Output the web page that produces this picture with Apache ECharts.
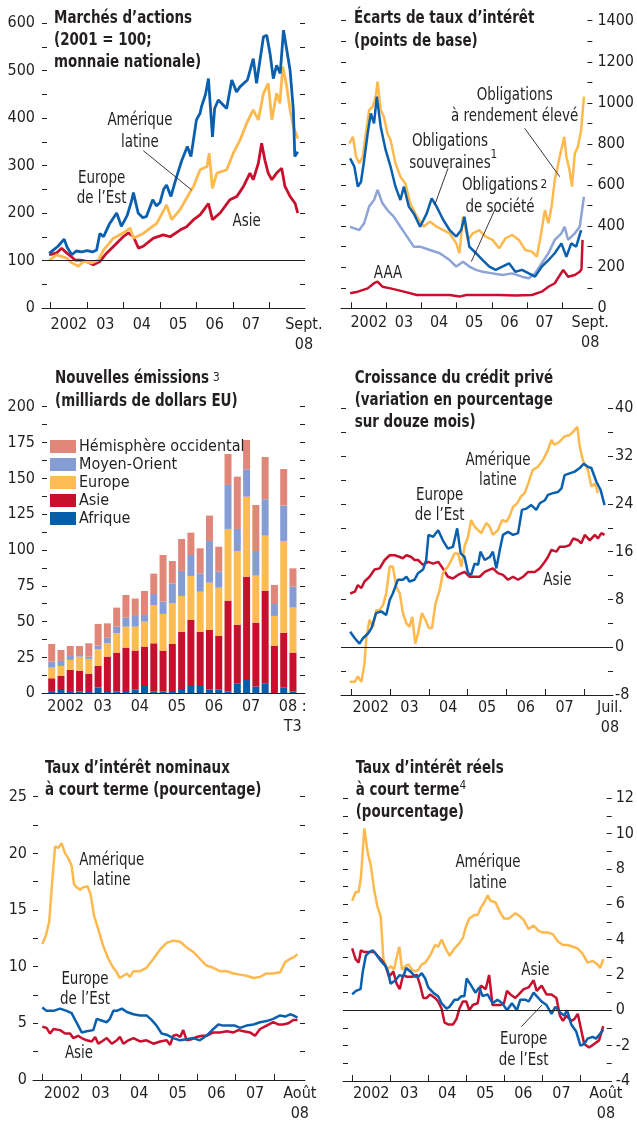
<!DOCTYPE html>
<html>
<head>
<meta charset="utf-8">
<script src="https://cdn.jsdelivr.net/npm/echarts@6/dist/echarts.min.js"></script>
<style>
  html, body { margin: 0; padding: 0; background: #fff; }
  #chart { width: 637px; height: 1124px; }
</style>
</head>
<body>
<div id="chart"></div>
<script>
const FONT = "'Liberation Sans Narrow', 'Arial Narrow', 'DejaVu Sans Condensed', sans-serif";
const INK = '#231f20';
const BLUE = '#0a5fae';
const ORANGE = '#fdb94e';
const RED = '#c8102e';
const LIGHT = '#8ea4d6';
const SALMON = '#e0877a';
const SQUEEZE = 0.83; // the source uses a condensed face

// shared x axis ticks / labels (years)
const yearTicks = [2002, 2003, 2004, 2005, 2006, 2007, 2008];
const yearLabels = ['2002', '03', '04', '05', '06', '07'];
const yearLabelPos = [2002.5, 2003.5, 2004.5, 2005.5, 2006.5, 2007.5];

// 1. Marchés d'actions (2001 = 100)
const eqEuropeEst = [[2001.96,115],[2002.07,122],[2002.2,130],[2002.37,145],[2002.45,128],[2002.58,112],[2002.7,120],[2002.85,118],[2003.0,121],[2003.15,118],[2003.26,122],[2003.35,157],[2003.45,150],[2003.54,165],[2003.62,178],[2003.81,200],[2003.94,172],[2004.1,195],[2004.23,228],[2004.27,243],[2004.4,200],[2004.53,190],[2004.63,193],[2004.8,228],[2004.9,215],[2005.0,222],[2005.1,250],[2005.18,259],[2005.3,235],[2005.45,275],[2005.6,311],[2005.75,340],[2005.85,319],[2006.0,396],[2006.1,410],[2006.14,424],[2006.25,450],[2006.33,483],[2006.44,360],[2006.5,420],[2006.6,438],[2006.83,420],[2006.97,480],[2007.1,455],[2007.2,466],[2007.4,480],[2007.56,525],[2007.65,473],[2007.84,571],[2007.93,574],[2008.02,536],[2008.11,483],[2008.2,511],[2008.3,494],[2008.39,585],[2008.48,543],[2008.57,501],[2008.66,417],[2008.7,319],[2008.78,329]];
const eqAmLatine = [[2001.96,100],[2002.16,112],[2002.44,105],[2002.58,95],[2002.76,88],[2002.9,98],[2003.13,95],[2003.31,101],[2003.45,122],[2003.72,147],[2003.99,158],[2004.18,168],[2004.27,147],[2004.54,157],[2004.91,178],[2005.18,217],[2005.32,186],[2005.55,207],[2005.78,238],[2005.92,256],[2006.1,291],[2006.29,298],[2006.35,326],[2006.44,252],[2006.56,284],[2006.83,291],[2007.01,326],[2007.2,354],[2007.38,389],[2007.56,417],[2007.7,396],[2007.84,452],[2007.97,473],[2008.07,396],[2008.2,452],[2008.29,431],[2008.37,508],[2008.48,466],[2008.57,417],[2008.66,382],[2008.78,357]];
const eqAsie = [[2001.96,112],[2002.16,116],[2002.3,126],[2002.44,116],[2002.67,101],[2002.81,101],[2002.99,98],[2003.17,91],[2003.35,98],[2003.54,116],[2003.77,133],[2003.99,150],[2004.13,158],[2004.27,150],[2004.41,126],[2004.54,130],[2004.82,147],[2005.09,154],[2005.28,150],[2005.55,164],[2005.73,171],[2005.92,186],[2006.1,196],[2006.33,220],[2006.44,186],[2006.65,200],[2006.92,228],[2007.11,235],[2007.29,256],[2007.47,284],[2007.56,270],[2007.7,305],[2007.79,347],[2007.88,311],[2007.97,284],[2008.07,270],[2008.2,284],[2008.34,294],[2008.43,256],[2008.57,235],[2008.71,220],[2008.78,200]];

// 2. Écarts de taux d'intérêt (points de base)
const spHighYield = [[2001.95,803],[2002.05,835],[2002.14,738],[2002.23,706],[2002.33,738],[2002.42,852],[2002.51,965],[2002.61,981],[2002.7,1030],[2002.75,1103],[2002.84,965],[2002.93,933],[2003.03,852],[2003.12,819],[2003.26,706],[2003.4,641],[2003.54,608],[2003.68,511],[2003.87,446],[2004.06,397],[2004.24,422],[2004.43,397],[2004.62,381],[2004.8,365],[2004.99,316],[2005.08,268],[2005.18,446],[2005.32,333],[2005.46,365],[2005.64,381],[2005.83,349],[2006.02,333],[2006.21,292],[2006.39,341],[2006.58,357],[2006.77,333],[2006.95,284],[2007.14,276],[2007.28,251],[2007.37,333],[2007.51,478],[2007.61,414],[2007.7,495],[2007.79,624],[2007.93,738],[2008.06,835],[2008.12,738],[2008.21,673],[2008.28,592],[2008.36,754],[2008.45,787],[2008.54,868],[2008.62,1030]];
const spSovereign = [[2001.97,730],[2002.09,690],[2002.19,592],[2002.28,616],[2002.37,722],[2002.47,852],[2002.56,949],[2002.65,900],[2002.73,1030],[2002.84,884],[2002.98,771],[2003.12,690],[2003.26,592],[2003.4,527],[2003.5,592],[2003.64,495],[2003.78,462],[2003.96,397],[2004.15,462],[2004.29,535],[2004.43,495],[2004.62,430],[2004.8,381],[2004.99,349],[2005.13,381],[2005.22,446],[2005.36,300],[2005.55,268],[2005.74,235],[2005.93,203],[2006.11,187],[2006.3,203],[2006.49,219],[2006.67,178],[2006.86,187],[2007.05,170],[2007.23,154],[2007.42,203],[2007.61,235],[2007.79,268],[2007.98,316],[2008.12,251],[2008.26,316],[2008.4,300],[2008.54,381]];
const spCorporate = [[2001.97,397],[2002.09,389],[2002.23,381],[2002.37,414],[2002.51,495],[2002.65,527],[2002.75,576],[2002.89,511],[2003.03,478],[2003.21,446],[2003.4,397],[2003.59,349],[2003.78,300],[2003.96,300],[2004.24,284],[2004.52,268],[2004.8,235],[2004.99,203],[2005.18,227],[2005.36,203],[2005.55,187],[2005.74,178],[2006.02,170],[2006.3,162],[2006.58,170],[2006.86,154],[2007.05,146],[2007.23,170],[2007.42,219],[2007.61,268],[2007.79,333],[2007.98,365],[2008.07,397],[2008.17,333],[2008.36,365],[2008.5,397],[2008.62,543]];
const spAAA = [[2001.97,73],[2002.19,81],[2002.47,97],[2002.65,122],[2002.75,130],[2002.89,105],[2003.12,97],[2003.5,81],[2003.87,65],[2004.34,65],[2004.8,65],[2005.08,57],[2005.27,65],[2005.74,65],[2006.21,65],[2006.67,62],[2007.14,65],[2007.42,81],[2007.61,105],[2007.79,122],[2008.03,187],[2008.17,154],[2008.36,162],[2008.5,178],[2008.55,190],[2008.58,333]];

// 3. Nouvelles émissions (milliards de dollars EU), trimestriel 2002 T1 - 2008 T3
const issueQuarters = ['2002T1','2002T2','2002T3','2002T4','2003T1','2003T2','2003T3','2003T4','2004T1','2004T2','2004T3','2004T4','2005T1','2005T2','2005T3','2005T4','2006T1','2006T2','2006T3','2006T4','2007T1','2007T2','2007T3','2007T4','2008T1','2008T2','2008T3'];
const issAfrique = [1.0,2.3,1.6,1.2,1.6,4.0,1.6,1.2,1.6,2.8,5.1,1.2,1.2,1.6,3.0,5.1,5.1,2.8,2.8,1.2,7.0,9.3,4.7,7.0,0,4.2,1.2];
const issAsie = [9.5,9.8,14.7,14.4,12.1,15.1,24.0,27.2,30.3,27.0,27.5,33.7,28.6,32.8,40.0,46.1,37.9,41.4,37.2,63.5,40.7,72.1,44.6,64.6,33.3,38.1,27.2];
const issEurope = [7.4,7.0,7.0,10.0,10.3,11.6,9.3,13.5,14.6,16.7,17.4,26.7,25.6,28.4,24.9,30.7,27.9,33.0,33.7,50.0,51.6,55.8,32.8,38.4,20.7,64.0,31.4];
const issMoyenOrient = [4.2,3.5,2.7,1.1,1.6,2.6,3.9,4.6,6.3,7.5,4.7,7.7,8.6,13.9,17.5,14.6,12.8,29.1,11.2,30.7,15.4,19.1,17.2,25.4,8.3,24.7,14.6];
const issHemOcc = [12.3,7.6,7.0,6.3,9.3,15.1,10.0,13.3,15.8,12.1,16.7,14.2,32.5,15.6,22.3,15.6,17.5,17.7,17.4,21.6,36.5,20.5,32.1,29.5,13.3,25.5,12.8];

// 4. Croissance du crédit privé (%, sur douze mois)
const crAmLatine = [[2001.96,-5.8],[2002.09,-5.8],[2002.17,-4.9],[2002.26,-5.8],[2002.34,-2.7],[2002.39,1.8],[2002.47,4.6],[2002.56,3.4],[2002.64,6.2],[2002.73,6.2],[2002.82,7.1],[2002.9,9.0],[2002.99,13.5],[2003.07,13.5],[2003.16,10.1],[2003.25,9.0],[2003.33,5.7],[2003.42,4.0],[2003.5,3.4],[2003.57,5.1],[2003.65,0.6],[2003.72,2.3],[2003.82,5.7],[2003.91,4.6],[2004.0,3.2],[2004.08,3.2],[2004.17,7.3],[2004.28,9.6],[2004.36,12.4],[2004.49,13.5],[2004.58,14.6],[2004.66,15.7],[2004.75,15.7],[2004.84,13.5],[2004.92,16.9],[2005.01,18.5],[2005.09,21.3],[2005.18,20.2],[2005.35,19.1],[2005.48,20.8],[2005.57,20.2],[2005.65,18.8],[2005.78,19.6],[2005.89,21.3],[2006.0,21.0],[2006.08,21.9],[2006.17,23.5],[2006.28,24.1],[2006.37,25.2],[2006.47,25.8],[2006.56,27.4],[2006.68,29.7],[2006.81,30.2],[2006.94,31.3],[2007.07,33.0],[2007.16,34.7],[2007.24,33.9],[2007.37,34.4],[2007.5,35.3],[2007.63,35.5],[2007.72,36.1],[2007.83,36.9],[2007.89,33.6],[2007.97,31.3],[2008.1,29.7],[2008.19,26.9],[2008.28,27.4],[2008.36,25.8]];
const crEuropeEst = [[2001.97,2.6],[2002.09,1.5],[2002.21,0.6],[2002.3,1.5],[2002.43,2.3],[2002.52,3.2],[2002.64,5.7],[2002.77,6.0],[2002.9,5.4],[2002.99,7.9],[2003.07,9.0],[2003.2,11.3],[2003.33,11.3],[2003.42,11.8],[2003.5,11.0],[2003.63,11.3],[2003.72,12.4],[2003.85,13.0],[2003.93,14.6],[2003.99,18.8],[2004.11,18.5],[2004.24,19.6],[2004.36,17.9],[2004.49,16.5],[2004.62,16.8],[2004.73,19.9],[2004.82,15.7],[2004.92,15.1],[2005.01,12.4],[2005.09,12.1],[2005.18,14.0],[2005.27,13.8],[2005.33,16.0],[2005.44,14.6],[2005.57,15.1],[2005.65,16.0],[2005.74,13.2],[2005.83,16.3],[2005.91,18.8],[2006.04,19.3],[2006.17,18.8],[2006.3,19.1],[2006.4,23.0],[2006.51,23.2],[2006.64,23.8],[2006.77,23.0],[2006.86,24.1],[2006.99,24.6],[2007.07,25.5],[2007.2,25.8],[2007.33,26.0],[2007.42,26.6],[2007.5,28.8],[2007.63,29.1],[2007.76,29.4],[2007.89,30.0],[2007.99,30.7],[2008.1,30.2],[2008.19,30.0],[2008.32,27.7],[2008.43,26.3],[2008.53,23.8]];
const crAsie = [[2001.97,9.0],[2002.09,9.3],[2002.17,10.4],[2002.26,9.9],[2002.34,11.0],[2002.47,11.8],[2002.6,13.0],[2002.73,13.2],[2002.86,14.6],[2002.99,15.4],[2003.12,15.4],[2003.25,15.1],[2003.33,14.9],[2003.42,15.4],[2003.55,15.1],[2003.63,14.6],[2003.72,14.6],[2003.85,13.8],[2003.98,14.3],[2004.11,14.0],[2004.24,14.3],[2004.36,13.2],[2004.49,11.8],[2004.62,11.5],[2004.75,12.1],[2004.92,12.6],[2005.05,11.8],[2005.18,11.8],[2005.31,11.8],[2005.44,12.6],[2005.57,13.0],[2005.65,13.2],[2005.78,12.4],[2005.91,12.1],[2006.04,11.3],[2006.17,11.8],[2006.3,11.3],[2006.43,11.8],[2006.56,12.6],[2006.73,12.6],[2006.86,13.2],[2006.99,14.3],[2007.07,15.1],[2007.16,16.3],[2007.29,16.0],[2007.37,16.8],[2007.5,16.8],[2007.63,17.1],[2007.72,18.2],[2007.85,17.9],[2007.93,17.4],[2008.02,18.8],[2008.15,17.9],[2008.28,18.8],[2008.36,18.2],[2008.45,19.1],[2008.53,18.8]];

// 5. Taux d'intérêt nominaux à court terme (%)
const nomAmLatine = [[2001.99,12.0],[2002.08,12.7],[2002.17,14.0],[2002.23,16.8],[2002.32,20.6],[2002.41,20.5],[2002.49,20.9],[2002.58,20.0],[2002.66,19.6],[2002.75,18.9],[2002.81,17.3],[2002.88,17.0],[2002.97,16.8],[2003.05,17.0],[2003.16,17.1],[2003.24,16.4],[2003.33,14.5],[2003.44,13.3],[2003.57,11.8],[2003.7,10.7],[2003.83,9.9],[2003.92,9.5],[2003.99,9.0],[2004.09,9.2],[2004.18,9.4],[2004.26,9.1],[2004.35,9.6],[2004.52,9.6],[2004.69,9.9],[2004.87,10.7],[2005.04,11.5],[2005.21,12.1],[2005.38,12.3],[2005.56,12.2],[2005.73,11.7],[2005.9,11.3],[2006.07,10.7],[2006.24,10.1],[2006.42,9.9],[2006.59,9.6],[2006.77,9.6],[2006.94,9.4],[2007.11,9.3],[2007.28,9.2],[2007.46,9.0],[2007.63,9.1],[2007.8,9.4],[2007.97,9.4],[2008.15,9.5],[2008.28,10.4],[2008.41,10.7],[2008.49,10.8],[2008.6,11.1]];
const nomEuropeEst = [[2001.99,6.4],[2002.1,6.1],[2002.28,6.1],[2002.45,6.3],[2002.62,6.1],[2002.75,5.9],[2002.84,5.3],[2002.92,4.8],[2003.01,4.2],[2003.14,4.3],[2003.31,4.4],[2003.4,5.4],[2003.48,5.3],[2003.66,5.1],[2003.74,5.4],[2003.83,6.1],[2003.92,6.1],[2004.05,6.3],[2004.18,6.0],[2004.35,5.8],[2004.52,5.7],[2004.69,5.7],[2004.82,5.3],[2004.95,4.8],[2005.08,4.1],[2005.21,4.0],[2005.38,3.7],[2005.56,3.5],[2005.73,3.6],[2005.9,3.7],[2006.07,3.5],[2006.24,3.9],[2006.42,4.5],[2006.55,4.9],[2006.68,4.8],[2006.85,4.8],[2006.98,4.8],[2007.11,4.6],[2007.28,4.8],[2007.46,4.9],[2007.63,5.1],[2007.8,5.2],[2007.97,5.4],[2008.15,5.7],[2008.28,5.6],[2008.41,5.8],[2008.49,5.7],[2008.6,5.5]];
const nomAsie = [[2001.99,4.7],[2002.1,4.6],[2002.19,4.1],[2002.28,4.5],[2002.45,4.4],[2002.58,4.1],[2002.71,4.1],[2002.79,3.7],[2002.92,3.9],[2003.01,3.7],[2003.14,3.5],[2003.27,3.4],[2003.36,3.8],[2003.44,3.2],[2003.53,3.4],[2003.66,3.7],[2003.79,3.2],[2003.92,3.5],[2004.0,3.8],[2004.09,3.2],[2004.22,3.5],[2004.35,3.7],[2004.52,3.4],[2004.69,3.5],[2004.87,3.2],[2005.04,3.4],[2005.21,3.5],[2005.3,3.1],[2005.38,3.9],[2005.47,4.0],[2005.56,3.8],[2005.64,4.4],[2005.73,3.5],[2005.86,3.6],[2005.99,3.8],[2006.12,3.9],[2006.24,3.9],[2006.42,4.2],[2006.59,4.2],[2006.77,4.3],[2006.94,4.2],[2007.07,4.4],[2007.2,4.3],[2007.37,4.2],[2007.5,3.9],[2007.63,4.5],[2007.8,4.8],[2007.97,5.1],[2008.1,4.9],[2008.23,4.9],[2008.36,5.0],[2008.49,5.3],[2008.6,5.3]];

// 6. Taux d'intérêt réels à court terme (%)
const reAmLatine = [[2002.0,6.2],[2002.09,6.7],[2002.17,6.7],[2002.23,7.5],[2002.32,10.3],[2002.41,8.9],[2002.49,8.2],[2002.58,6.8],[2002.66,5.9],[2002.75,5.3],[2002.82,2.9],[2002.92,2.3],[2003.01,2.5],[2003.1,2.3],[2003.18,3.1],[2003.24,3.6],[2003.31,2.3],[2003.4,2.5],[2003.48,2.6],[2003.57,2.3],[2003.66,2.2],[2003.74,2.3],[2003.83,2.6],[2003.92,2.7],[2004.05,3.1],[2004.18,3.7],[2004.26,3.6],[2004.35,4.0],[2004.48,3.4],[2004.56,3.1],[2004.69,3.5],[2004.82,3.8],[2004.91,4.1],[2005.0,4.8],[2005.08,5.2],[2005.21,5.4],[2005.3,5.4],[2005.38,5.8],[2005.47,6.1],[2005.56,6.5],[2005.64,6.2],[2005.77,6.1],[2005.9,5.5],[2005.99,5.2],[2006.12,5.2],[2006.29,5.5],[2006.42,5.3],[2006.51,5.1],[2006.64,4.6],[2006.77,4.8],[2006.9,4.5],[2007.02,4.4],[2007.15,4.4],[2007.28,4.3],[2007.41,3.9],[2007.54,3.7],[2007.67,3.7],[2007.8,3.6],[2007.93,3.5],[2008.06,3.2],[2008.19,2.7],[2008.32,2.8],[2008.45,2.6],[2008.52,2.4],[2008.6,2.9]];
const reAsie = [[2002.0,3.5],[2002.09,2.9],[2002.17,2.7],[2002.23,3.4],[2002.32,3.3],[2002.45,3.3],[2002.58,3.3],[2002.66,3.1],[2002.79,2.8],[2002.88,2.5],[2002.97,1.9],[2003.08,2.2],[2003.17,1.5],[2003.25,1.2],[2003.34,2.0],[2003.44,1.9],[2003.57,1.9],[2003.7,2.0],[2003.79,1.4],[2003.87,0.7],[2003.96,0.7],[2004.05,0.9],[2004.18,0.7],[2004.26,0.5],[2004.35,0.1],[2004.43,-0.7],[2004.52,-0.8],[2004.65,-0.8],[2004.74,-0.5],[2004.82,0.1],[2004.91,0.5],[2005.0,0.5],[2005.08,0.0],[2005.17,0.3],[2005.3,0.4],[2005.38,1.4],[2005.51,1.2],[2005.6,2.0],[2005.69,0.3],[2005.82,0.3],[2005.9,0.3],[2005.99,0.4],[2006.07,1.1],[2006.16,0.9],[2006.29,0.7],[2006.38,0.9],[2006.51,1.2],[2006.64,1.3],[2006.77,1.7],[2006.85,1.1],[2006.98,1.4],[2007.11,0.9],[2007.24,0.9],[2007.37,0.7],[2007.46,-0.3],[2007.54,-0.6],[2007.63,-0.3],[2007.76,-0.6],[2007.84,-0.5],[2007.93,-0.2],[2008.02,-1.1],[2008.1,-1.9],[2008.23,-2.1],[2008.36,-1.9],[2008.49,-1.7],[2008.6,-0.9]];
const reEuropeEst = [[2002.0,0.9],[2002.1,1.1],[2002.22,1.2],[2002.28,2.2],[2002.36,3.1],[2002.45,3.3],[2002.54,3.4],[2002.62,3.2],[2002.75,2.8],[2002.88,2.5],[2002.94,2.2],[2003.01,1.5],[2003.14,1.7],[2003.25,2.0],[2003.34,1.9],[2003.42,2.4],[2003.53,2.2],[2003.66,1.9],[2003.74,1.9],[2003.83,2.1],[2003.92,1.8],[2004.0,1.3],[2004.13,1.0],[2004.26,0.8],[2004.35,0.4],[2004.48,0.1],[2004.56,0.2],[2004.69,0.6],[2004.78,0.6],[2004.87,0.8],[2004.95,0.8],[2005.01,1.8],[2005.13,1.4],[2005.24,1.0],[2005.34,1.3],[2005.43,0.8],[2005.56,0.9],[2005.69,0.4],[2005.82,0.6],[2005.95,0.4],[2006.07,0.0],[2006.2,0.4],[2006.33,0.0],[2006.42,0.6],[2006.55,0.6],[2006.64,0.5],[2006.77,1.0],[2006.85,0.8],[2006.98,0.5],[2007.11,0.3],[2007.24,-0.2],[2007.34,0.2],[2007.46,-0.1],[2007.57,-0.3],[2007.65,0.0],[2007.76,-0.8],[2007.89,-1.2],[2008.0,-2.0],[2008.1,-1.9],[2008.19,-1.6],[2008.32,-1.5],[2008.41,-1.6],[2008.49,-1.4],[2008.54,-1.5],[2008.6,-1.1]];

const txtBase = { fontFamily: FONT, fontSize: 16, color: INK };

function timeAxis(gi, min, max, endLabel, endPos, margin, showTicks) {
  const pos = yearLabelPos.concat([endPos]);
  return {
    type: 'value', gridIndex: gi, min: min, max: max,
    axisLine: { show: true, onZero: false, lineStyle: { color: INK, width: 1 } },
    axisTick: { show: showTicks, inside: true, length: 6, customValues: yearTicks, lineStyle: { color: INK, width: 1 } },
    axisLabel: Object.assign({
      customValues: pos, margin: margin, lineHeight: 20,
      formatter: v => { const i = pos.indexOf(v); return i < 6 ? yearLabels[i] : endLabel; }
    }, txtBase),
    splitLine: { show: false }
  };
}

function valueAxis(gi, position, min, max, interval, every, showLabel, margin) {
  return {
    type: 'value', gridIndex: gi, position: position, min: min, max: max, interval: interval,
    axisLine: { show: false },
    axisTick: { show: true, inside: true, length: 5, lineStyle: { color: INK, width: 1 } },
    axisLabel: Object.assign({
      show: showLabel, margin: margin,
      formatter: v => (Math.abs(v / every - Math.round(v / every)) < 1e-6 ? String(v) : '')
    }, txtBase),
    splitLine: { show: false }
  };
}

function line(name, gi, data, color, width, extra) {
  return Object.assign({
    name: name, type: 'line', xAxisIndex: gi, yAxisIndex: gi * 2, data: data,
    showSymbol: false, symbol: 'none', lineStyle: { color: color, width: width || 2.6 },
    itemStyle: { color: color }, z: 3
  }, extra || {});
}

function refLine(value) {
  return {
    silent: true, symbol: ['none', 'none'], label: { show: false },
    lineStyle: { color: INK, width: 1, type: 'solid' }, data: [{ yAxis: value }]
  };
}

// bars live on their own category grid laid exactly under panel 3
function bar(name, data, color) {
  return {
    name: name, type: 'bar', xAxisIndex: 6, yAxisIndex: 12, stack: 'issues',
    data: data, barWidth: 7, itemStyle: { color: color }
  };
}

function text(x, y, str, opts) {
  opts = opts || {};
  return {
    type: 'text', x: x, y: y, z: 50, silent: true, scaleX: opts.sx || SQUEEZE,
    style: {
      text: str, fill: INK,
      fontFamily: FONT, fontSize: opts.size || 18, fontWeight: opts.bold ? 'bold' : 'normal',
      lineHeight: opts.lh || 21,
      align: opts.align || 'center', textAlign: opts.align || 'center',
      verticalAlign: 'top', textVerticalAlign: 'top'
    }
  };
}

function leader(x1, y1, x2, y2) {
  return { type: 'line', z: 50, silent: true, shape: { x1: x1, y1: y1, x2: x2, y2: y2 }, style: { stroke: INK, lineWidth: 0.9 } };
}

const grids = [
  { left: 42, top: 23, width: 263, height: 285 },
  { left: 341, top: 20.7, width: 255, height: 287.6 },
  { left: 42, top: 406.7, width: 263, height: 286.6 },
  { left: 341, top: 408.3, width: 272, height: 286.7 },
  { left: 33, top: 796.7, width: 272, height: 285 },
  { left: 343, top: 798.3, width: 272.7, height: 284.4 },
  { left: 47.06, top: 406.7, width: 250.56, height: 286.6 }
];

const option = {
  animation: false,
  backgroundColor: '#fff',
  textStyle: { fontFamily: FONT },
  grid: grids,
  xAxis: [
    timeAxis(0, 2001.761, 2008.98, 'Sept.\n08', 2008.95, 7, true),
    timeAxis(1, 2001.711, 2008.86, 'Sept.\n08', 2008.8, 5, true),
    timeAxis(2, 2001.864, 2008.952, '08 :\nT3', 2008.62, 3.5, false),
    timeAxis(3, 2001.734, 2008.748, 'Juil.\n08', 2008.67, 3, true),
    timeAxis(4, 2001.749, 2008.794, 'Août\n08', 2008.66, 4, true),
    timeAxis(5, 2001.759, 2008.822, 'Août\n08', 2008.67, 3, true),
    { type: 'category', gridIndex: 6, data: issueQuarters, boundaryGap: true,
      axisLine: { show: false }, axisTick: { show: false }, axisLabel: { show: false }, splitLine: { show: false } }
  ],
  yAxis: [
    valueAxis(0, 'left', 0, 600, 50, 100, true, 7),
    valueAxis(0, 'right', 0, 600, 50, 100, false, 4),
    valueAxis(1, 'left', 0, 1400, 100, 200, false, 4),
    valueAxis(1, 'right', 0, 1400, 100, 200, true, 5),
    valueAxis(2, 'left', 0, 200, 12.5, 25, true, 7),
    valueAxis(2, 'right', 0, 200, 12.5, 25, false, 4),
    valueAxis(3, 'left', -8, 40, 4, 8, false, 4),
    valueAxis(3, 'right', -8, 40, 4, 8, true, 2),
    valueAxis(4, 'left', 0, 25, 2.5, 5, true, 6),
    valueAxis(4, 'right', 0, 25, 2.5, 5, false, 4),
    valueAxis(5, 'left', -4, 12, 1, 2, false, 4),
    valueAxis(5, 'right', -4, 12, 1, 2, true, 4),
    { type: 'value', gridIndex: 6, min: 0, max: 200, show: false, splitLine: { show: false } }
  ],
  legend: {
    orient: 'vertical', left: 50, top: 438.5, itemWidth: 26, itemHeight: 13, itemGap: 2,
    icon: 'rect', selectedMode: false, padding: 0,
    textStyle: { fontFamily: FONT, fontSize: 16, lineHeight: 13, color: INK, padding: [0, 0, 0, -2] },
    data: ['Hémisphère occidental', 'Moyen-Orient', 'Europe', 'Asie', 'Afrique']
  },
  series: [
    line('p1 Asie', 0, eqAsie, RED, 2.8, { markLine: refLine(100) }),
    line('p1 Amérique latine', 0, eqAmLatine, ORANGE, 2.8),
    line('p1 Europe de l’Est', 0, eqEuropeEst, BLUE, 2.8),

    line('p2 AAA', 1, spAAA, RED, 2.5),
    line('p2 Obligations de société', 1, spCorporate, LIGHT, 2.5),
    line('p2 Obligations à rendement élevé', 1, spHighYield, ORANGE, 2.5),
    line('p2 Obligations souveraines', 1, spSovereign, BLUE, 2.5),

    bar('Afrique', issAfrique, '#055eaa'),
    bar('Asie', issAsie, RED),
    bar('Europe', issEurope, '#fdbc52'),
    bar('Moyen-Orient', issMoyenOrient, '#859dd4'),
    bar('Hémisphère occidental', issHemOcc, SALMON),

    line('p4 Asie', 3, crAsie, RED, 2.5, { markLine: refLine(0) }),
    line('p4 Amérique latine', 3, crAmLatine, ORANGE, 2.5),
    line('p4 Europe de l’Est', 3, crEuropeEst, BLUE, 2.5),

    line('p5 Amérique latine', 4, nomAmLatine, ORANGE, 2.5),
    line('p5 Asie', 4, nomAsie, RED, 2.5),
    line('p5 Europe de l’Est', 4, nomEuropeEst, BLUE, 2.5),

    line('p6 Amérique latine', 5, reAmLatine, ORANGE, 2.5, { markLine: refLine(0) }),
    line('p6 Asie', 5, reAsie, RED, 2.5),
    line('p6 Europe de l’Est', 5, reEuropeEst, BLUE, 2.5)
  ],
  graphic: [
    // titles
    text(54, 7.3, 'Marchés d’actions\n(2001 = 100;\nmonnaie nationale)', { bold: true, align: 'left', lh: 22 }),
    text(354, 6.3, 'Écarts de taux d’intérêt\n(points de base)', { bold: true, align: 'left', lh: 23.5 }),
    text(55, 366.8, 'Nouvelles émissions\n(milliards de dollars EU)', { bold: true, align: 'left', lh: 23 }),
    text(213, 371, '3', { size: 13, align: 'left', lh: 13, sx: 0.9 }),
    text(354.7, 367.3, 'Croissance du crédit privé\n(variation en pourcentage\nsur douze mois)', { bold: true, align: 'left', lh: 22 }),
    text(45, 757, 'Taux d’intérêt nominaux\nà court terme (pourcentage)', { bold: true, align: 'left', lh: 22 }),
    text(355.7, 757, 'Taux d’intérêt réels\nà court terme\n(pourcentage)', { bold: true, align: 'left', lh: 22 }),
    text(459.5, 779, '4', { size: 13, align: 'left', lh: 13, sx: 0.9 }),

    // panel 1 labels
    text(140, 109, 'Amérique\nlatine', { lh: 22 }),
    leader(143.3, 150.7, 191.7, 190),
    text(101.7, 168, 'Europe\nde l’Est', { lh: 20 }),
    text(246.7, 211, 'Asie'),

    // panel 2 labels
    text(514.7, 84.5, 'Obligations\nà rendement élevé', { lh: 21 }),
    leader(524.7, 128.3, 559.7, 176.7),
    text(450, 131, 'Obligations\nsouveraines', { lh: 21.6 }),
    text(490.5, 148, '1', { size: 13, align: 'left', lh: 13, sx: 0.9 }),
    leader(448, 168.3, 434.7, 205),
    text(500, 174.5, 'Obligations\nde société', { lh: 21.6 }),
    text(540.5, 178, '2', { size: 13, align: 'left', lh: 13, sx: 0.9 }),
    leader(494.7, 210, 471.3, 261.7),
    text(388, 262.8, 'AAA'),

    // panel 4 labels
    text(498, 449.6, 'Amérique\nlatine', { lh: 20.7 }),
    text(439.7, 485, 'Europe\nde l’Est', { lh: 20 }),
    text(557.3, 569.5, 'Asie'),

    // panel 5 labels
    text(111.7, 849.7, 'Amérique\nlatine', { lh: 20.7 }),
    text(85, 969, 'Europe\nde l’Est', { lh: 20.3 }),
    text(79, 1042.8, 'Asie'),

    // panel 6 labels
    text(488, 852.3, 'Amérique\nlatine', { lh: 20.6 }),
    text(535.3, 959.5, 'Asie'),
    text(523.7, 1029, 'Europe\nde l’Est', { lh: 20.7 }),
    leader(521.3, 1026.7, 542, 1005)
  ]
};

const chart = echarts.init(document.getElementById('chart'), null, { renderer: 'canvas' });
chart.setOption(option);
</script>
</body>
</html>
